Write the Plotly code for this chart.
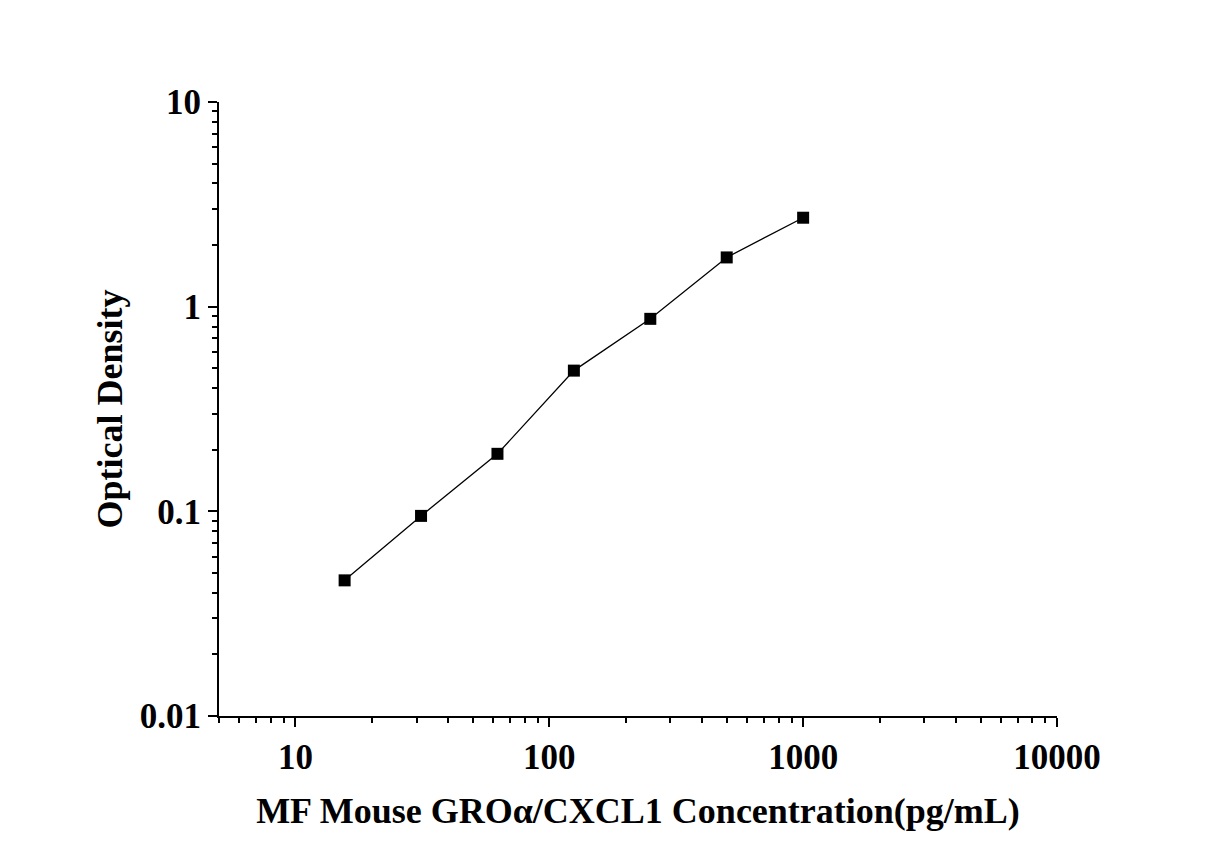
import plotly.graph_objects as go

# Standard curve data
concentration = [15.625, 31.25, 62.5, 125, 250, 500, 1000]
optical_density = [0.046, 0.095, 0.191, 0.487, 0.872, 1.74, 2.72]

x_ticks = [10, 100, 1000, 10000]
y_ticks = [0.01, 0.1, 1, 10]
y_tick_labels = ["0.01", "0.1", "1", "10"]

font_family = "Liberation Serif"

fig = go.Figure(
    go.Scatter(
        x=concentration,
        y=optical_density,
        mode="lines+markers",
        line=dict(color="black", width=1.3),
        marker=dict(symbol="square", size=12, color="black"),
        showlegend=False,
    )
)

axis_common = dict(
    type="log",
    showgrid=False,
    zeroline=False,
    showline=True,
    linecolor="black",
    linewidth=2,
    ticks="outside",
    ticklen=9,
    tickwidth=2,
    tickcolor="black",
    tickfont=dict(family=font_family, size=35, color="black", weight="bold"),
    minor=dict(ticks="outside", ticklen=5, tickwidth=2, tickcolor="black", dtick="D1", showgrid=False),
)

fig.update_layout(
    width=1226,
    height=857,
    margin=dict(l=211, r=177, t=94, b=149),
    plot_bgcolor="white",
    paper_bgcolor="white",
    xaxis=dict(
        axis_common,
        range=[0.69897, 4],
        tickvals=x_ticks,
        ticktext=[str(v) for v in x_ticks],
        title=dict(
            text="<b>MF Mouse GROα/CXCL1 Concentration(pg/mL)</b>",
            font=dict(family=font_family, size=36, color="black"),
            standoff=22,
        ),
    ),
    yaxis=dict(
        axis_common,
        range=[-2, 1],
        tickvals=y_ticks,
        ticktext=y_tick_labels,
        title=dict(
            text="<b>Optical Density</b>",
            font=dict(family=font_family, size=36, color="black"),
            standoff=6,
        ),
    ),
)

fig.write_html("out.html")
